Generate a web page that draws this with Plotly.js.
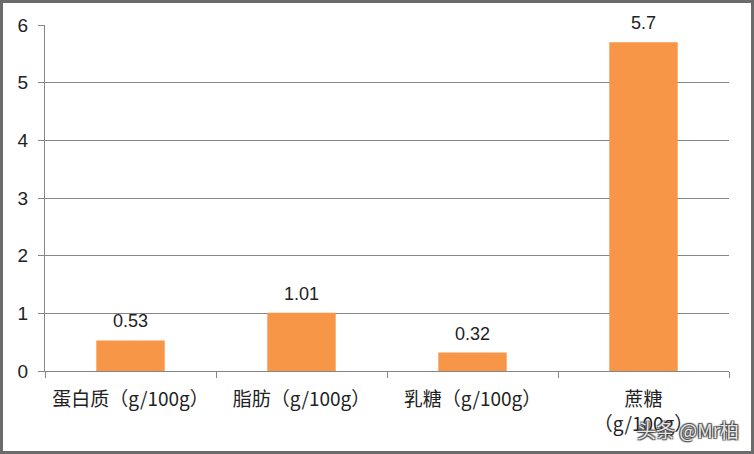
<!DOCTYPE html>
<html><head><meta charset="utf-8">
<script src="https://cdn.plot.ly/plotly-3.0.1.min.js"></script>
<style>
html,body{margin:0;padding:0;background:#fff;}
#wrap{position:relative;width:754px;height:454px;}
#chart{width:754px;height:454px;}
#frame{position:absolute;left:0;top:0;width:754px;height:454px;box-sizing:border-box;border:3px solid #6b6b6b;pointer-events:none;}
</style></head>
<body>
<div id="wrap"><div id="chart"></div><div id="frame"></div></div>
<script>
const categories = ["蛋白质（g/100g）", "脂肪（g/100g）", "乳糖（g/100g）", "蔗糖<br>（g/100g）"];
const values = [0.53, 1.01, 0.32, 5.7];
const valueLabels = ["0.53", "1.01", "0.32", "5.7"];
const yTicks = [0, 1, 2, 3, 4, 5, 6];

const fontFam = "'Liberation Sans', 'Noto Sans CJK SC', sans-serif";

const trace = {
  type: "bar",
  x: categories,
  y: values,
  marker: {color: "#F79646", line: {width: 0}},
  hoverinfo: "none"
};

const annotations = categories.map((c, i) => ({
  x: c, y: values[i], xref: "x", yref: "y",
  text: valueLabels[i], showarrow: false,
  yanchor: "bottom", yshift: 7,
  font: {family: fontFam, size: 18, color: "#222"}
}));
annotations.push({
  xref: "paper", yref: "paper", x: 1.017, y: -0.17,
  xanchor: "right", yanchor: "middle",
  text: "头条 @Mr柏", showarrow: false,
  font: {family: "'Noto Sans CJK SC', sans-serif", size: 19, color: "rgba(245,245,245,0.92)", shadow: "1px 1px 1px #444, -1px -1px 1px #444, 1px -1px 1px #444, -1px 1px 1px #444"}
});

const layout = {
  width: 754, height: 454,
  margin: {l: 45, r: 25, t: 25, b: 83, pad: 0},
  paper_bgcolor: "#fff", plot_bgcolor: "#fff",
  showlegend: false,
  bargap: 0.6,
  font: {family: fontFam, size: 18, color: "#222"},
  xaxis: {
    type: "category",
    showline: true, linecolor: "#868686", linewidth: 1,
    ticks: "outside", ticklen: 6, tickcolor: "#868686",
    tickson: "boundaries",
    tickangle: 0,
    ticklabelstandoff: 11,
    showgrid: false,
    tickfont: {family: "'Noto Sans CJK SC', sans-serif", size: 19, color: "#222"},
    fixedrange: true
  },
  yaxis: {
    range: [0, 6],
    tickvals: yTicks,
    showline: true, linecolor: "#868686", linewidth: 1,
    ticks: "outside", ticklen: 6, tickcolor: "#868686",
    ticklabelstandoff: 6,
    showgrid: true, gridcolor: "#868686", gridwidth: 1,
    zeroline: false,
    tickfont: {family: fontFam, size: 19, color: "#222"},
    fixedrange: true
  },
  annotations: annotations
};

Plotly.newPlot("chart", [trace], layout, {displayModeBar: false, staticPlot: true});
</script>
</body></html>
